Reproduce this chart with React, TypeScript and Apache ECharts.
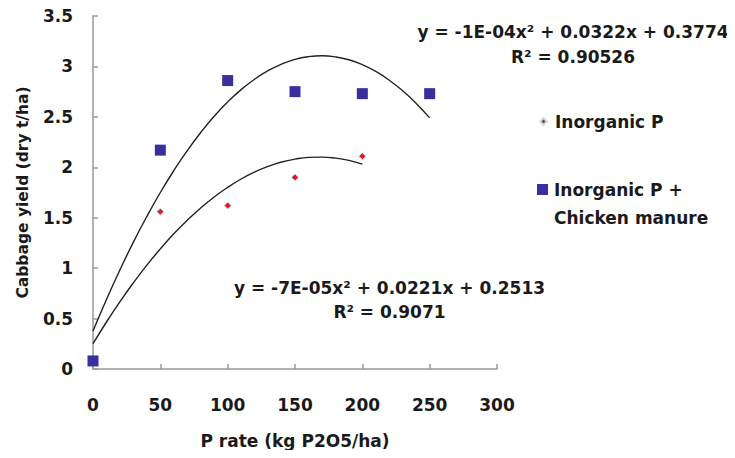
import React, { useEffect, useRef } from "react";
import * as echarts from "echarts";

// P rate (kg P2O5/ha)
const pRatesInorganic = [50, 100, 150, 200];
const yieldInorganic = [1.56, 1.62, 1.9, 2.11];

const pRatesManure = [0, 50, 100, 150, 200, 250];
const yieldManure = [0.08, 2.17, 2.86, 2.75, 2.73, 2.73];

// Trend curves
const trendManureX = [0, 10, 20, 30, 40, 50, 60, 70, 80, 90, 100, 110, 120, 130, 140, 150, 160, 170, 180, 190, 200, 210, 220, 230, 240, 250];
const trendManure = [0.377, 0.69, 0.983, 1.258, 1.513, 1.75, 1.967, 2.166, 2.345, 2.506, 2.647, 2.77, 2.873, 2.958, 3.023, 3.07, 3.097, 3.106, 3.095, 3.066, 3.017, 2.95, 2.863, 2.758, 2.633, 2.49];
const trendInorganicX = [0, 10, 20, 30, 40, 50, 60, 70, 80, 90, 100, 110, 120, 130, 140, 150, 160, 170, 180, 190, 200];
const trendInorganic = [0.251, 0.466, 0.667, 0.855, 1.03, 1.191, 1.34, 1.475, 1.597, 1.706, 1.801, 1.884, 1.953, 2.009, 2.052, 2.081, 2.098, 2.101, 2.091, 2.068, 2.031];

const eqManure = "y = -1E-04x² + 0.0322x + 0.3774\nR² = 0.90526";
const eqInorganic = "y = -7E-05x² + 0.0221x + 0.2513\nR² = 0.9071";

const FONT = '"DejaVu Sans", "Liberation Sans", Arial, sans-serif';
const TXT = "#1a1a1a";

export default function App() {
  const ref = useRef<HTMLDivElement>(null);
  useEffect(() => {
    if (!ref.current) return;
    const chart = echarts.init(ref.current, null, { renderer: "svg" });
    const axisCommon = {
      axisLine: { show: true, lineStyle: { color: "#999", width: 1.5 } },
      axisTick: { show: true, inside: true, length: 5, lineStyle: { color: "#999", width: 1.5 } },
      splitLine: { show: false },
      axisLabel: { color: TXT, fontFamily: FONT, fontWeight: "bold", fontSize: 17 },
      nameTextStyle: { color: TXT, fontFamily: FONT, fontWeight: "bold", fontSize: 17 },
    };
    const legendText = { color: TXT, fontFamily: FONT, fontWeight: "bold", fontSize: 17 };
    chart.setOption({
      animation: false,
      backgroundColor: "#fff",
      grid: { left: 93, right: 238, top: 16, bottom: 89, containLabel: false, outerBoundsMode: "none" },
      xAxis: {
        type: "value",
        min: 0,
        max: 300,
        interval: 50,
        name: "P rate (kg P2O5/ha)",
        nameLocation: "middle",
        nameGap: 63,
        ...axisCommon,
        axisLabel: { ...axisCommon.axisLabel, margin: 27 },
      },
      yAxis: {
        type: "value",
        min: 0,
        max: 3.5,
        interval: 0.5,
        name: "Cabbage yield (dry t/ha)",
        nameLocation: "middle",
        nameGap: 62,
        ...axisCommon,
        axisLabel: { ...axisCommon.axisLabel, margin: 20 },
        nameTextStyle: { ...axisCommon.nameTextStyle, fontSize: 15.5 },
      },
      legend: [
        {
          data: ["Inorganic P"],
          left: 539,
          top: 113,
          padding: 0,
          itemWidth: 7,
          itemHeight: 7,
          textStyle: { ...legendText, padding: [0, 0, 0, 3] },
        },
        {
          data: ["Inorganic P + Chicken manure"],
          left: 537,
          top: 181,
          padding: 0,
          itemWidth: 11,
          itemHeight: 11,
          formatter: () => "Inorganic P +",
          textStyle: { ...legendText, padding: [0, 0, 0, 1] },
        },
      ],
      graphic: [
        {
          type: "text",
          x: 554,
          y: 218,
          silent: true,
          style: {
            text: "Chicken manure",
            font: `bold 17px ${FONT}`,
            fill: TXT,
            align: "left",
            verticalAlign: "middle",
          },
        },
        {
          type: "text",
          x: 573,
          y: 44.5,
          silent: true,
          style: {
            text: eqManure,
            font: `bold 17px ${FONT}`,
            fill: TXT,
            align: "center",
            verticalAlign: "middle",
            lineHeight: 25,
          },
        },
        {
          type: "text",
          x: 389.5,
          y: 300,
          silent: true,
          style: {
            text: eqInorganic,
            font: `bold 17px ${FONT}`,
            fill: TXT,
            align: "center",
            verticalAlign: "middle",
            lineHeight: 24,
          },
        },
      ],
      series: [
        {
          name: "Trend manure",
          type: "line",
          data: trendManureX.map((x, i) => [x, trendManure[i]]),
          smooth: true,
          showSymbol: false,
          silent: true,
          lineStyle: { color: "#222", width: 1.4 },
          z: 1,
        },
        {
          name: "Trend inorganic",
          type: "line",
          data: trendInorganicX.map((x, i) => [x, trendInorganic[i]]),
          smooth: true,
          showSymbol: false,
          silent: true,
          lineStyle: { color: "#222", width: 1.4 },
          z: 1,
        },
        {
          name: "Inorganic P",
          type: "scatter",
          data: pRatesInorganic.map((x, i) => [x, yieldInorganic[i]]),
          symbol: "diamond",
          symbolSize: 7,
          itemStyle: { color: "#e8141b", borderColor: "#bfe6ea", borderWidth: 1, opacity: 1 },
          z: 3,
        },
        {
          name: "Inorganic P + Chicken manure",
          type: "scatter",
          data: pRatesManure.map((x, i) => [x, yieldManure[i]]),
          symbol: "rect",
          symbolSize: 11,
          itemStyle: { color: "#3a2f9f", opacity: 1 },
          z: 3,
        },
      ],
    });
    return () => chart.dispose();
  }, []);
  return <div ref={ref} style={{ width: 735, height: 458, margin: -8 }} />;
}
